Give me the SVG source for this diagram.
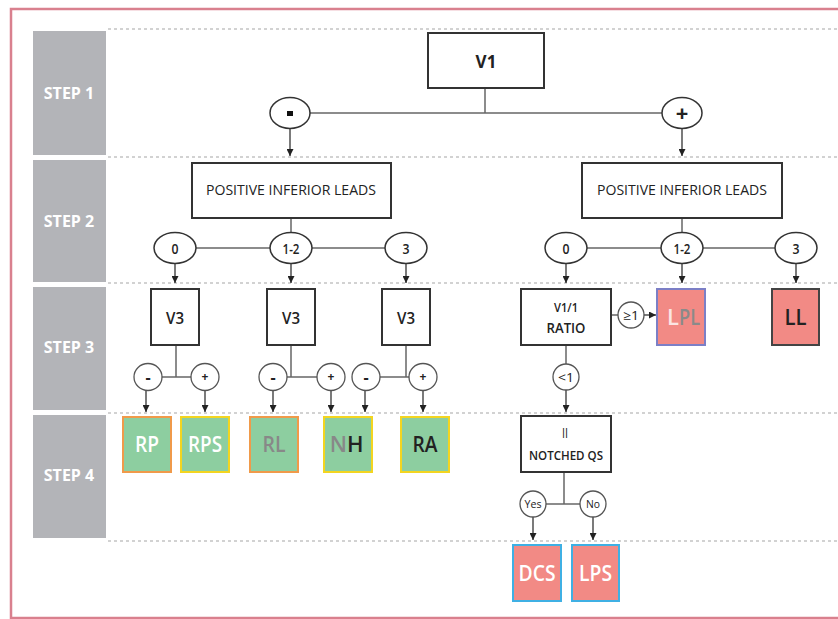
<svg xmlns="http://www.w3.org/2000/svg" width="838" height="619" viewBox="0 0 838 619">
<defs>
<marker id="arr" viewBox="0 0 8 8" refX="8" refY="4" markerWidth="7" markerHeight="7" markerUnits="userSpaceOnUse" orient="auto">
<path d="M0,0 L8,4 L0,8 Z" fill="#222"/>
</marker>
<style>
.step{fill:#b3b4b8}
.steptxt{font-family:"Open Sans","Liberation Sans",sans-serif;font-weight:bold;font-size:16px;fill:#fff;text-anchor:middle}
.dash{stroke:#c4c4c4;stroke-width:1.5;stroke-dasharray:3 3;fill:none}
.box{fill:#fff;stroke:#333;stroke-width:2}
.t{font-family:"Open Sans","Liberation Sans",sans-serif;fill:#222;text-anchor:middle}
.ov{fill:#fff;stroke:#333;stroke-width:1.5}
.ovs{fill:#fff;stroke:#555;stroke-width:1.3}
.ln{stroke:#666;stroke-width:1.5;fill:none}
.ar{stroke:#333;stroke-width:1.3;fill:none;marker-end:url(#arr)}
.green{fill:#8dcea0;stroke-width:2}
.red{fill:#f28a85;stroke-width:2}
.big{font-family:"Open Sans","Liberation Sans",sans-serif;font-size:22px;font-weight:600;text-anchor:middle}
</style>
</defs>
<rect x="0" y="0" width="838" height="619" fill="#fff"/>
<rect x="11" y="9" width="840" height="609" fill="none" stroke="#d9808e" stroke-width="2.5"/>

<g id="steps">
<rect class="step" x="33" y="31" width="73" height="124"/>
<text class="steptxt" x="69" y="99">STEP 1</text>
<rect class="step" x="33" y="160" width="73" height="122"/>
<text class="steptxt" x="69" y="227">STEP 2</text>
<rect class="step" x="33" y="287" width="73" height="123"/>
<text class="steptxt" x="69" y="353">STEP 3</text>
<rect class="step" x="33" y="415" width="73" height="123"/>
<text class="steptxt" x="69" y="481">STEP 4</text>
</g>

<g id="rows">
<line class="dash" x1="108" y1="29" x2="838" y2="29"/>
<line class="dash" x1="108" y1="157" x2="838" y2="157"/>
<line class="dash" x1="108" y1="283" x2="838" y2="283"/>
<line class="dash" x1="108" y1="413" x2="838" y2="413"/>
<line class="dash" x1="108" y1="541" x2="838" y2="541"/>
</g>

<g id="connectors">
<line class="ln" x1="485" y1="88" x2="485" y2="113"/>
<line class="ln" x1="310" y1="113" x2="662" y2="113"/>
<line class="ar" x1="290" y1="128" x2="290" y2="156"/>
<line class="ar" x1="682" y1="128" x2="682" y2="156"/>
<line class="ln" x1="291" y1="218" x2="291" y2="233"/>
<line class="ln" x1="196" y1="248" x2="270" y2="248"/>
<line class="ln" x1="312" y1="248" x2="385" y2="248"/>
<line class="ar" x1="175" y1="264" x2="175" y2="283"/>
<line class="ar" x1="291" y1="264" x2="291" y2="283"/>
<line class="ar" x1="406" y1="264" x2="406" y2="283"/>
<line class="ln" x1="682" y1="218" x2="682" y2="233"/>
<line class="ln" x1="587" y1="248" x2="661" y2="248"/>
<line class="ln" x1="703" y1="248" x2="775" y2="248"/>
<line class="ar" x1="566" y1="264" x2="566" y2="283"/>
<line class="ar" x1="682" y1="264" x2="682" y2="283"/>
<line class="ar" x1="796" y1="264" x2="796" y2="283"/>
<line class="ln" x1="176" y1="345" x2="176" y2="377"/>
<line class="ln" x1="162" y1="377" x2="191" y2="377"/>
<line class="ln" x1="291" y1="345" x2="291" y2="377"/>
<line class="ln" x1="287" y1="377" x2="317" y2="377"/>
<line class="ln" x1="406" y1="345" x2="406" y2="377"/>
<line class="ln" x1="380" y1="377" x2="409" y2="377"/>
<line class="ar" x1="146" y1="390" x2="146" y2="412"/>
<line class="ar" x1="205" y1="390" x2="205" y2="412"/>
<line class="ar" x1="273" y1="390" x2="273" y2="412"/>
<line class="ar" x1="331" y1="390" x2="331" y2="412"/>
<line class="ar" x1="365" y1="390" x2="365" y2="412"/>
<line class="ar" x1="423" y1="390" x2="423" y2="412"/>
<line class="ln" x1="611" y1="315" x2="618" y2="315"/>
<line class="ar" x1="644" y1="315" x2="656" y2="315"/>
<line class="ln" x1="566" y1="345" x2="566" y2="364"/>
<line class="ar" x1="566" y1="390" x2="566" y2="412"/>
<line class="ln" x1="564" y1="472" x2="564" y2="504"/>
<line class="ln" x1="546" y1="504" x2="580" y2="504"/>
<line class="ar" x1="533" y1="517" x2="533" y2="540"/>
<line class="ar" x1="593" y1="517" x2="593" y2="540"/>
</g>

<g id="v1">
<rect class="box" x="428" y="33" width="116" height="55"/>
<text class="t" x="486" y="68" font-size="17" font-weight="bold">V1</text>
</g>
<g id="neg1">
<ellipse class="ov" cx="290" cy="113" rx="20" ry="15.5"/>
<rect x="287" y="111" width="6" height="5" fill="#111"/>
</g>
<g id="pos1">
<ellipse class="ov" cx="682" cy="113" rx="20" ry="15.5"/>
<text class="t" x="682" y="121" font-size="22" font-weight="bold">+</text>
</g>

<g id="pil-left">
<rect class="box" x="192" y="163" width="199" height="55"/>
<text class="t" x="291" y="195" font-size="15" textLength="170" lengthAdjust="spacingAndGlyphs">POSITIVE INFERIOR LEADS</text>
</g>
<g id="pil-right">
<rect class="box" x="582" y="163" width="200" height="55"/>
<text class="t" x="682" y="195" font-size="15" textLength="170" lengthAdjust="spacingAndGlyphs">POSITIVE INFERIOR LEADS</text>
</g>

<g id="l0"><ellipse class="ov" cx="175" cy="248" rx="21" ry="15.5"/><text class="t" x="175" y="254" font-size="15" font-weight="600" textLength="7" lengthAdjust="spacingAndGlyphs">0</text></g>
<g id="l12"><ellipse class="ov" cx="291" cy="248" rx="21" ry="15.5"/><text class="t" x="291" y="254" font-size="15" font-weight="600" textLength="17" lengthAdjust="spacingAndGlyphs">1-2</text></g>
<g id="l3"><ellipse class="ov" cx="406" cy="248" rx="21" ry="15.5"/><text class="t" x="406" y="254" font-size="15" font-weight="600" textLength="7" lengthAdjust="spacingAndGlyphs">3</text></g>
<g id="r0"><ellipse class="ov" cx="566" cy="248" rx="21" ry="15.5"/><text class="t" x="566" y="254" font-size="15" font-weight="600" textLength="7" lengthAdjust="spacingAndGlyphs">0</text></g>
<g id="r12"><ellipse class="ov" cx="682" cy="248" rx="21" ry="15.5"/><text class="t" x="682" y="254" font-size="15" font-weight="600" textLength="17" lengthAdjust="spacingAndGlyphs">1-2</text></g>
<g id="r3"><ellipse class="ov" cx="796" cy="248" rx="21" ry="15.5"/><text class="t" x="796" y="254" font-size="15" font-weight="600" textLength="7" lengthAdjust="spacingAndGlyphs">3</text></g>

<g id="v3a"><rect class="box" x="151" y="289" width="48" height="56"/><text class="t" x="175" y="324" font-size="17" font-weight="600" textLength="18" lengthAdjust="spacingAndGlyphs">V3</text></g>
<g id="v3b"><rect class="box" x="267" y="289" width="48" height="56"/><text class="t" x="291" y="324" font-size="17" font-weight="600" textLength="18" lengthAdjust="spacingAndGlyphs">V3</text></g>
<g id="v3c"><rect class="box" x="382" y="289" width="48" height="56"/><text class="t" x="406" y="324" font-size="17" font-weight="600" textLength="18" lengthAdjust="spacingAndGlyphs">V3</text></g>

<g id="a-neg"><ellipse class="ovs" cx="148" cy="377" rx="14" ry="13.5"/><text class="t" x="148" y="383" font-size="16" font-weight="bold">-</text></g>
<g id="a-pos"><ellipse class="ovs" cx="205" cy="377" rx="14" ry="13.5"/><text class="t" x="205" y="381" font-size="12" font-weight="bold">+</text></g>
<g id="b-neg"><ellipse class="ovs" cx="273" cy="377" rx="14" ry="13.5"/><text class="t" x="273" y="383" font-size="16" font-weight="bold">-</text></g>
<g id="b-pos"><ellipse class="ovs" cx="331" cy="377" rx="14" ry="13.5"/><text class="t" x="331" y="381" font-size="12" font-weight="bold">+</text></g>
<g id="c-neg"><ellipse class="ovs" cx="366" cy="377" rx="14" ry="13.5"/><text class="t" x="366" y="383" font-size="16" font-weight="bold">-</text></g>
<g id="c-pos"><ellipse class="ovs" cx="423" cy="377" rx="14" ry="13.5"/><text class="t" x="423" y="381" font-size="12" font-weight="bold">+</text></g>

<g id="ratio">
<rect class="box" x="521" y="289" width="90" height="56"/>
<text class="t" x="566" y="312" font-size="13" font-weight="600" textLength="24" lengthAdjust="spacingAndGlyphs">V1/1</text>
<text class="t" x="566" y="333" font-size="15" font-weight="600" textLength="39" lengthAdjust="spacingAndGlyphs">RATIO</text>
</g>
<g id="ge1"><ellipse class="ovs" cx="631" cy="315" rx="13" ry="13"/><text class="t" x="631" y="320" font-size="13" textLength="16" lengthAdjust="spacingAndGlyphs">≥1</text></g>
<g id="lt1"><ellipse class="ovs" cx="566" cy="377" rx="13" ry="13"/><text class="t" x="566" y="382" font-size="13" textLength="16" lengthAdjust="spacingAndGlyphs">&lt;1</text></g>

<g id="lpl">
<rect class="red" x="657" y="289" width="48" height="56" stroke="#7c7fc6"/>
<text class="big" x="679" y="325" fill="#fbe5e3" style="text-anchor:end">L</text>
<text class="big" x="679" y="325" fill="#8a8a8a" style="text-anchor:start" textLength="21" lengthAdjust="spacingAndGlyphs">PL</text>
</g>
<g id="ll">
<rect class="red" x="772" y="289" width="47" height="56" stroke="#444"/>
<text class="big" x="795.5" y="325" fill="#222" textLength="22" lengthAdjust="spacingAndGlyphs">LL</text>
</g>

<g id="rp"><rect class="green" x="123" y="417" width="48" height="55" stroke="#f09a4a"/><text class="big" x="147" y="452" fill="#fff" textLength="24" lengthAdjust="spacingAndGlyphs">RP</text></g>
<g id="rps"><rect class="green" x="181" y="417" width="48" height="55" stroke="#f3d520"/><text class="big" x="205" y="452" fill="#fff" textLength="34" lengthAdjust="spacingAndGlyphs">RPS</text></g>
<g id="rl"><rect class="green" x="250" y="417" width="48" height="55" stroke="#f09a4a"/><text class="big" x="274" y="452" fill="#888" textLength="23" lengthAdjust="spacingAndGlyphs">RL</text></g>
<g id="nh"><rect class="green" x="324" y="417" width="48" height="55" stroke="#f3d520"/>
<text class="big" x="347" y="452" fill="#888" style="text-anchor:end">N</text>
<text class="big" x="347" y="452" fill="#222" style="text-anchor:start">H</text></g>
<g id="ra"><rect class="green" x="401" y="417" width="48" height="55" stroke="#f3d520"/><text class="big" x="425" y="452" fill="#222" textLength="25" lengthAdjust="spacingAndGlyphs">RA</text></g>

<g id="notched">
<rect class="box" x="521" y="416" width="90" height="56"/>
<text class="t" x="565" y="438" font-size="14" fill="#666" textLength="6" lengthAdjust="spacingAndGlyphs">II</text>
<text class="t" x="566" y="460" font-size="12" font-weight="600" textLength="74" lengthAdjust="spacingAndGlyphs">NOTCHED QS</text>
</g>
<g id="yes"><ellipse class="ovs" cx="533" cy="504" rx="13" ry="13"/><text class="t" x="533" y="508" font-size="11" textLength="17" lengthAdjust="spacingAndGlyphs">Yes</text></g>
<g id="no"><ellipse class="ovs" cx="593" cy="504" rx="13" ry="13"/><text class="t" x="593" y="508" font-size="11" textLength="14" lengthAdjust="spacingAndGlyphs">No</text></g>

<g id="dcs"><rect class="red" x="513" y="545" width="48" height="56" stroke="#3fb0e4"/><text class="big" x="537" y="581" fill="#fff" textLength="37" lengthAdjust="spacingAndGlyphs">DCS</text></g>
<g id="lps"><rect class="red" x="572" y="545" width="47" height="56" stroke="#3fb0e4"/><text class="big" x="595.5" y="581" fill="#fff" textLength="33" lengthAdjust="spacingAndGlyphs">LPS</text></g>
</svg>
